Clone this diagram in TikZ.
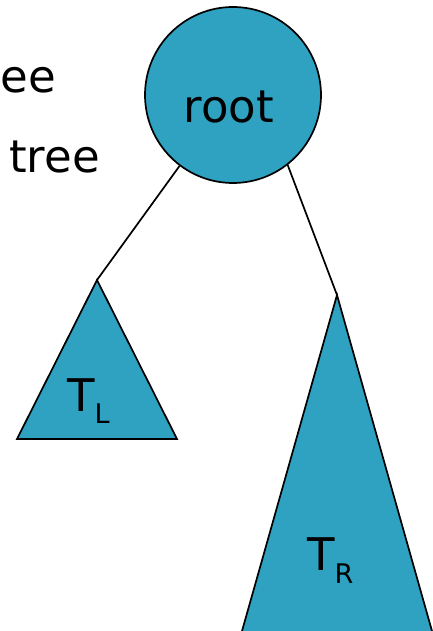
\documentclass[tikz,border=0pt]{standalone}
\usepackage{fontspec}
\setmainfont{DejaVu Sans}
\definecolor{treeblue}{RGB}{46,162,192}
\tikzset{
    subtree/.style={draw=black, fill=treeblue, line width=1.7pt, line join=miter},
    edge/.style={draw=black, line width=1.7pt},
    big/.style={font=\fontsize{45}{52}\selectfont, inner sep=0pt},
}

\begin{document}
\begin{tikzpicture}[x=1pt, y=-1pt]
    % Page
    \clip (0,0) rectangle (433,631);

    % Cut-off text on the left
    \node[big, anchor=base east] (line1) at (56,93) {ee};
    \node[big, anchor=base east] (line2) at (100,172) {tree};

    % Root
    \node[circle, draw=black, fill=treeblue, line width=1.7pt,
          minimum size=176pt, inner sep=0pt] (root) at (233,95) {};
    \node[big, anchor=base] (rootname) at (229,123) {root};

    % Subtrees
    \coordinate (ltop) at (97,280);
    \coordinate (rtop) at (337,295);
    \draw[subtree] (ltop) -- (17,439) -- (177,439) -- cycle;
    \draw[subtree] (rtop) -- (233.8,660) -- (440.2,660) -- cycle;

    \node[big, anchor=base west] (lname) at (67,411)
        {T\raisebox{-12pt}{\fontsize{27}{32}\selectfont L}};
    \node[big, anchor=base west] (rname) at (307,570)
        {T\raisebox{-13pt}{\fontsize{27}{32}\selectfont R}};

    % Edges
    \draw[edge] (root.-127.5) -- (ltop);
    \draw[edge] (root.-52.5) -- (rtop);
\end{tikzpicture}
\end{document}
